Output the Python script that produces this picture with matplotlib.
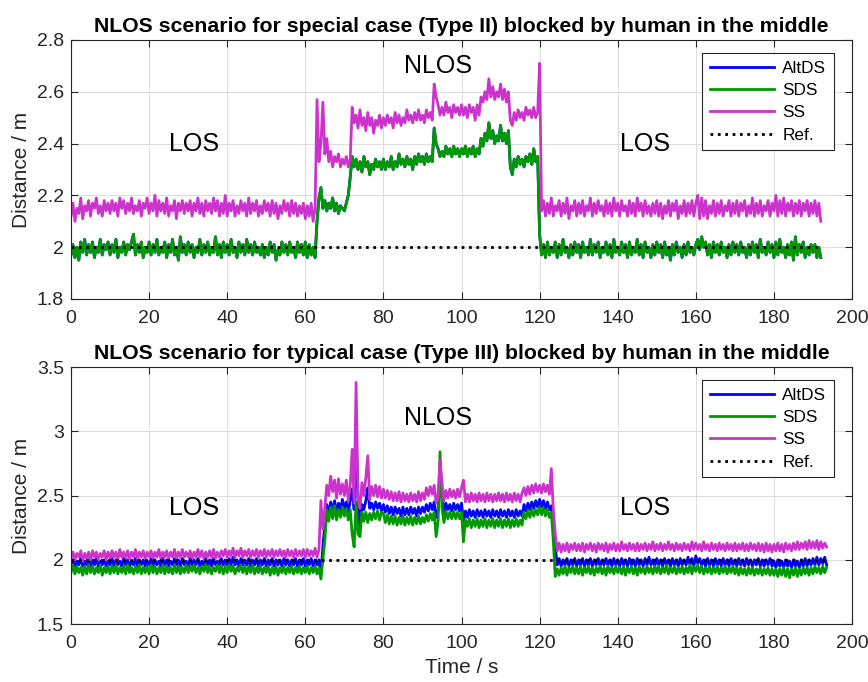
import matplotlib
matplotlib.use('Agg')
import matplotlib.pyplot as plt
import numpy as np

plt.rcParams['font.family'] = ['Liberation Sans', 'DejaVu Sans']

# sampling step of the series (s)
dt = 0.5

# ---- upper panel: special case (Type II), one row = 10 s ----
sds_top = [
    1.97, 2.01, 1.96, 2.00, 1.95, 2.02, 1.98, 2.03, 1.97, 2.01, 1.98, 2.02, 1.96, 2.00, 1.98, 2.03, 1.97, 2.01, 1.99, 2.02,
    1.97, 2.01, 1.98, 2.03, 1.96, 2.00, 1.98, 2.02, 1.97, 2.01, 1.99, 2.02, 2.05, 1.97, 2.01, 1.98, 2.02, 1.96, 2.00, 1.98,
    2.02, 1.97, 2.01, 1.98, 2.03, 1.97, 2.00, 1.98, 2.02, 1.96, 2.01, 1.98, 2.03, 1.97, 2.00, 1.95, 2.04, 1.98, 2.01, 1.97,
    2.02, 1.98, 2.01, 1.96, 2.00, 1.98, 2.03, 1.97, 2.01, 1.98, 2.02, 1.97, 2.00, 1.98, 2.04, 1.97, 2.01, 1.96, 2.02, 1.98,
    2.01, 1.97, 2.03, 1.98, 2.00, 1.96, 2.02, 1.98, 2.01, 1.97, 2.03, 1.98, 2.01, 1.97, 2.02, 1.98, 2.00, 1.97, 2.01, 1.96,
    2.00, 1.97, 2.02, 1.98, 2.01, 1.95, 1.99, 1.97, 2.02, 1.98, 2.01, 1.97, 2.02, 1.98, 2.00, 1.96, 2.02, 1.98, 2.01, 1.97,
    2.02, 1.96, 2.01, 1.97, 2.00, 1.96, 2.10, 2.19, 2.23, 2.15, 2.18, 2.14, 2.17, 2.15, 2.19, 2.14, 2.17, 2.13, 2.16, 2.15,
    2.14, 2.17, 2.20, 2.27, 2.35, 2.31, 2.34, 2.30, 2.33, 2.29, 2.35, 2.31, 2.33, 2.28, 2.32, 2.30, 2.34, 2.31, 2.33, 2.30,
    2.34, 2.30, 2.33, 2.31, 2.35, 2.30, 2.33, 2.31, 2.36, 2.32, 2.34, 2.31, 2.35, 2.32, 2.34, 2.30, 2.35, 2.32, 2.36, 2.33,
    2.35, 2.32, 2.36, 2.33, 2.35, 2.33, 2.46, 2.40, 2.38, 2.35, 2.37, 2.35, 2.39, 2.36, 2.38, 2.35, 2.39, 2.36, 2.38, 2.35,
    2.38, 2.36, 2.39, 2.35, 2.38, 2.36, 2.39, 2.35, 2.38, 2.36, 2.42, 2.39, 2.44, 2.41, 2.48, 2.42, 2.45, 2.40, 2.43, 2.41,
    2.47, 2.41, 2.44, 2.40, 2.45, 2.31, 2.28, 2.34, 2.31, 2.35, 2.32, 2.34, 2.31, 2.35, 2.33, 2.36, 2.32, 2.38, 2.33, 2.35,
    2.05, 1.97, 2.01, 1.96, 2.02, 1.97, 2.00, 1.98, 2.02, 1.96, 2.01, 1.97, 2.03, 1.98, 2.00, 1.96, 2.01, 1.97, 2.02, 1.98,
    2.01, 1.96, 2.02, 1.98, 2.00, 1.97, 2.03, 1.97, 2.01, 1.98, 2.02, 1.96, 2.00, 1.98, 2.02, 1.97, 2.01, 1.96, 2.03, 1.98,
    2.00, 1.97, 2.02, 1.98, 2.01, 1.96, 2.02, 1.97, 2.00, 1.98, 2.03, 1.97, 2.01, 1.96, 2.02, 1.98, 2.00, 1.96, 2.01, 1.97,
    2.02, 1.98, 2.01, 1.96, 2.02, 1.97, 2.00, 1.95, 2.01, 1.97, 2.02, 1.98, 2.00, 1.96, 2.01, 1.97, 2.02, 1.98, 2.00, 1.97,
    2.01, 2.03, 1.99, 2.04, 2.00, 2.02, 1.97, 2.01, 1.96, 2.02, 1.98, 2.01, 1.97, 2.02, 1.98, 2.00, 1.96, 2.01, 1.97, 2.02,
    1.98, 2.01, 1.97, 2.02, 1.98, 2.00, 1.96, 2.01, 1.97, 2.02, 1.98, 2.01, 1.96, 2.03, 1.98, 2.00, 1.97, 2.02, 1.98, 2.01,
    1.96, 2.02, 1.97, 2.03, 1.98, 2.00, 1.96, 2.01, 1.97, 2.02, 1.95, 2.04, 1.97, 2.01, 1.98, 2.02, 1.96, 2.00, 1.97, 2.01,
    1.98, 2.01, 1.96, 2.00, 1.96,
]
# AltDS coincides with SDS in this case (hidden under the green line)
altds_top = sds_top
ss_top = [
    2.12, 2.17, 2.10, 2.15, 2.13, 2.19, 2.11, 2.16, 2.14, 2.18, 2.12, 2.17, 2.15, 2.19, 2.13, 2.16, 2.12, 2.18, 2.14, 2.17,
    2.13, 2.18, 2.14, 2.17, 2.12, 2.19, 2.15, 2.18, 2.13, 2.17, 2.14, 2.19, 2.13, 2.16, 2.14, 2.18, 2.12, 2.17, 2.15, 2.19,
    2.13, 2.17, 2.14, 2.20, 2.12, 2.18, 2.14, 2.17, 2.13, 2.19, 2.12, 2.16, 2.14, 2.18, 2.11, 2.17, 2.14, 2.18, 2.13, 2.17,
    2.14, 2.18, 2.12, 2.17, 2.14, 2.19, 2.13, 2.17, 2.12, 2.18, 2.14, 2.17, 2.13, 2.19, 2.14, 2.18, 2.12, 2.17, 2.13, 2.20,
    2.12, 2.17, 2.14, 2.18, 2.12, 2.16, 2.13, 2.18, 2.14, 2.17, 2.12, 2.19, 2.13, 2.17, 2.14, 2.18, 2.12, 2.16, 2.13, 2.18,
    2.14, 2.17, 2.12, 2.18, 2.13, 2.17, 2.11, 2.16, 2.13, 2.18, 2.14, 2.17, 2.12, 2.18, 2.13, 2.17, 2.12, 2.16, 2.13, 2.17,
    2.11, 2.16, 2.12, 2.17, 2.10, 2.15, 2.57, 2.33, 2.40, 2.56, 2.36, 2.42, 2.33, 2.37, 2.31, 2.35, 2.33, 2.36, 2.31, 2.34,
    2.32, 2.35, 2.31, 2.34, 2.54, 2.48, 2.51, 2.46, 2.53, 2.47, 2.50, 2.45, 2.52, 2.47, 2.50, 2.44, 2.49, 2.47, 2.51, 2.46,
    2.50, 2.47, 2.51, 2.48, 2.50, 2.46, 2.52, 2.48, 2.51, 2.47, 2.50, 2.48, 2.53, 2.49, 2.51, 2.48, 2.52, 2.49, 2.53, 2.49,
    2.51, 2.48, 2.53, 2.50, 2.52, 2.49, 2.63, 2.58, 2.55, 2.51, 2.54, 2.51, 2.56, 2.52, 2.54, 2.50, 2.55, 2.52, 2.54, 2.51,
    2.55, 2.51, 2.54, 2.50, 2.55, 2.52, 2.54, 2.49, 2.55, 2.51, 2.58, 2.56, 2.60, 2.57, 2.65, 2.58, 2.62, 2.57, 2.60, 2.58,
    2.63, 2.57, 2.61, 2.56, 2.60, 2.49, 2.47, 2.52, 2.49, 2.53, 2.50, 2.52, 2.49, 2.54, 2.51, 2.53, 2.50, 2.54, 2.50, 2.52,
    2.71, 2.14, 2.18, 2.12, 2.17, 2.13, 2.19, 2.12, 2.16, 2.14, 2.18, 2.12, 2.17, 2.13, 2.19, 2.11, 2.16, 2.14, 2.18, 2.12,
    2.17, 2.13, 2.18, 2.12, 2.16, 2.14, 2.19, 2.12, 2.17, 2.13, 2.18, 2.14, 2.16, 2.12, 2.18, 2.13, 2.17, 2.12, 2.19, 2.14,
    2.17, 2.12, 2.18, 2.14, 2.16, 2.12, 2.18, 2.13, 2.17, 2.12, 2.19, 2.14, 2.17, 2.12, 2.18, 2.13, 2.16, 2.12, 2.17, 2.13,
    2.18, 2.12, 2.17, 2.11, 2.16, 2.13, 2.18, 2.12, 2.17, 2.14, 2.18, 2.11, 2.16, 2.13, 2.18, 2.12, 2.17, 2.13, 2.18, 2.12,
    2.17, 2.20, 2.11, 2.19, 2.12, 2.18, 2.11, 2.16, 2.13, 2.18, 2.12, 2.17, 2.13, 2.18, 2.12, 2.16, 2.14, 2.18, 2.12, 2.17,
    2.13, 2.18, 2.12, 2.17, 2.14, 2.18, 2.12, 2.16, 2.13, 2.19, 2.12, 2.17, 2.13, 2.18, 2.12, 2.16, 2.14, 2.18, 2.12, 2.17,
    2.14, 2.20, 2.12, 2.18, 2.13, 2.19, 2.12, 2.17, 2.14, 2.18, 2.12, 2.17, 2.13, 2.18, 2.12, 2.17, 2.14, 2.18, 2.12, 2.17,
    2.13, 2.18, 2.12, 2.17, 2.10,
]

# ---- lower panel: typical case (Type III), one row = 10 s ----
altds_bot = [
    1.96, 2.00, 1.95, 1.99, 1.96, 2.01, 1.95, 1.99, 1.96, 2.00, 1.95, 2.00, 1.96, 2.01, 1.95, 1.99, 1.96, 2.00, 1.95, 1.99,
    1.96, 2.01, 1.95, 2.00, 1.96, 1.99, 1.95, 2.01, 1.96, 2.00, 1.95, 1.99, 1.96, 2.01, 1.95, 2.00, 1.96, 2.00, 1.95, 1.99,
    1.96, 2.01, 1.95, 2.00, 1.96, 1.99, 1.95, 2.01, 1.96, 2.00, 1.95, 1.99, 1.96, 2.01, 1.96, 2.00, 1.95, 2.01, 1.96, 1.99,
    1.95, 2.01, 1.96, 2.00, 1.96, 2.01, 1.95, 1.99, 1.96, 2.01, 1.96, 2.00, 1.95, 2.01, 1.96, 1.99, 1.96, 2.01, 1.96, 2.00,
    1.96, 2.01, 1.96, 2.02, 1.96, 2.00, 1.95, 2.01, 1.96, 2.00, 1.96, 2.01, 1.95, 2.00, 1.96, 2.01, 1.95, 2.00, 1.96, 2.01,
    1.95, 2.00, 1.96, 2.01, 1.95, 2.00, 1.96, 2.00, 1.95, 2.01, 1.96, 2.00, 1.95, 2.00, 1.96, 2.01, 1.95, 2.00, 1.96, 2.01,
    1.95, 2.00, 1.96, 2.01, 1.95, 2.00, 1.96, 2.00, 1.90, 2.10, 2.28, 2.43, 2.36, 2.45, 2.38, 2.46, 2.37, 2.44, 2.39, 2.47,
    2.40, 2.45, 2.37, 2.46, 2.55, 2.39, 2.95, 2.45, 2.25, 2.43, 2.39, 2.46, 2.56, 2.40, 2.44, 2.39, 2.45, 2.40, 2.44, 2.38,
    2.43, 2.37, 2.42, 2.36, 2.41, 2.35, 2.41, 2.36, 2.40, 2.34, 2.41, 2.35, 2.40, 2.35, 2.41, 2.36, 2.40, 2.34, 2.41, 2.36,
    2.41, 2.37, 2.43, 2.38, 2.44, 2.39, 2.45, 2.33, 2.38, 2.70, 2.50, 2.37, 2.44, 2.39, 2.43, 2.38, 2.44, 2.39, 2.43, 2.38,
    2.44, 2.30, 2.38, 2.33, 2.39, 2.34, 2.38, 2.33, 2.39, 2.34, 2.38, 2.33, 2.39, 2.34, 2.38, 2.33, 2.39, 2.34, 2.38, 2.33,
    2.39, 2.34, 2.38, 2.33, 2.39, 2.34, 2.38, 2.33, 2.39, 2.34, 2.38, 2.34, 2.43, 2.38, 2.44, 2.39, 2.45, 2.40, 2.46, 2.41,
    2.47, 2.41, 2.46, 2.40, 2.45, 2.39, 2.42, 2.25, 2.10, 1.96, 2.01, 1.95, 2.00, 1.96, 2.01, 1.95, 2.00, 1.96, 2.01, 1.95,
    2.00, 1.96, 2.01, 1.95, 2.00, 1.96, 2.01, 1.95, 2.00, 1.96, 2.01, 1.95, 2.00, 1.96, 2.01, 1.96, 2.00, 1.95, 2.01, 1.96,
    2.00, 1.95, 2.01, 1.96, 2.00, 1.95, 2.01, 1.96, 2.00, 1.95, 2.01, 1.96, 2.00, 1.95, 2.01, 1.96, 2.02, 1.96, 2.00, 1.95,
    2.01, 1.96, 2.00, 1.95, 2.01, 1.96, 2.00, 1.95, 2.01, 1.96, 2.00, 1.95, 2.01, 1.96, 2.00, 1.96, 2.02, 1.96, 2.01, 1.95,
    2.03, 1.97, 2.01, 1.96, 2.00, 1.95, 2.01, 1.96, 2.00, 1.95, 2.01, 1.96, 2.00, 1.95, 2.01, 1.96, 2.00, 1.95, 2.01, 1.96,
    2.00, 1.95, 2.01, 1.96, 2.00, 1.95, 2.01, 1.96, 2.00, 1.95, 2.00, 1.96, 2.01, 1.95, 2.00, 1.95, 2.00, 1.96, 2.01, 1.95,
    1.99, 1.94, 2.00, 1.95, 1.99, 1.94, 2.00, 1.95, 1.99, 1.94, 2.00, 1.95, 1.99, 1.94, 2.00, 1.95, 2.01, 1.95, 2.00, 1.96,
    2.01, 1.96, 2.02, 1.96, 2.01, 1.97, 2.02, 1.96,
]
sds_bot = [
    1.90, 1.96, 1.89, 1.95, 1.90, 1.94, 1.88, 1.95, 1.89, 1.96, 1.90, 1.95, 1.89, 1.94, 1.90, 1.96, 1.88, 1.94, 1.90, 1.95,
    1.89, 1.95, 1.90, 1.96, 1.89, 1.94, 1.90, 1.95, 1.89, 1.96, 1.90, 1.94, 1.89, 1.95, 1.90, 1.96, 1.89, 1.94, 1.90, 1.95,
    1.89, 1.96, 1.90, 1.95, 1.89, 1.94, 1.90, 1.96, 1.89, 1.95, 1.90, 1.94, 1.89, 1.96, 1.90, 1.95, 1.89, 1.94, 1.90, 1.96,
    1.90, 1.95, 1.91, 1.96, 1.90, 1.94, 1.89, 1.95, 1.91, 1.96, 1.90, 1.95, 1.89, 1.94, 1.91, 1.96, 1.90, 1.95, 1.89, 1.95,
    1.90, 1.96, 1.91, 1.95, 1.89, 1.94, 1.91, 1.96, 1.90, 1.95, 1.89, 1.95, 1.90, 1.96, 1.89, 1.94, 1.90, 1.95, 1.89, 1.94,
    1.90, 1.95, 1.88, 1.94, 1.89, 1.95, 1.88, 1.94, 1.90, 1.95, 1.89, 1.94, 1.90, 1.95, 1.89, 1.94, 1.90, 1.95, 1.89, 1.94,
    1.90, 1.95, 1.89, 1.94, 1.90, 1.95, 1.89, 1.94, 1.85, 2.00, 2.15, 2.39, 2.30, 2.41, 2.32, 2.42, 2.31, 2.39, 2.33, 2.41,
    2.34, 2.40, 2.31, 2.39, 2.20, 2.10, 2.45, 2.20, 2.18, 2.37, 2.30, 2.37, 2.29, 2.36, 2.31, 2.37, 2.32, 2.38, 2.31, 2.37,
    2.36, 2.29, 2.35, 2.28, 2.34, 2.28, 2.34, 2.27, 2.33, 2.28, 2.34, 2.27, 2.33, 2.28, 2.34, 2.27, 2.33, 2.28, 2.34, 2.28,
    2.33, 2.29, 2.35, 2.30, 2.36, 2.31, 2.37, 2.18, 2.30, 2.84, 2.40, 2.29, 2.38, 2.32, 2.37, 2.32, 2.38, 2.32, 2.37, 2.32,
    2.37, 2.14, 2.31, 2.26, 2.32, 2.25, 2.31, 2.26, 2.32, 2.25, 2.31, 2.26, 2.32, 2.25, 2.31, 2.26, 2.32, 2.25, 2.31, 2.26,
    2.32, 2.25, 2.31, 2.26, 2.32, 2.25, 2.31, 2.26, 2.32, 2.26, 2.31, 2.27, 2.37, 2.32, 2.38, 2.33, 2.39, 2.34, 2.39, 2.35,
    2.41, 2.35, 2.40, 2.34, 2.39, 2.33, 2.37, 2.15, 1.87, 1.93, 1.88, 1.94, 1.89, 1.95, 1.88, 1.94, 1.90, 1.95, 1.89, 1.94,
    1.89, 1.95, 1.88, 1.94, 1.90, 1.95, 1.89, 1.94, 1.88, 1.94, 1.90, 1.95, 1.89, 1.94, 1.88, 1.95, 1.90, 1.94, 1.89, 1.95,
    1.90, 1.94, 1.89, 1.95, 1.88, 1.94, 1.90, 1.95, 1.89, 1.94, 1.88, 1.95, 1.90, 1.94, 1.89, 1.95, 1.90, 1.94, 1.89, 1.95,
    1.90, 1.95, 1.89, 1.94, 1.90, 1.96, 1.89, 1.94, 1.90, 1.95, 1.89, 1.94, 1.90, 1.95, 1.89, 1.94, 1.90, 1.96, 1.89, 1.95,
    1.91, 1.96, 1.90, 1.95, 1.89, 1.94, 1.90, 1.95, 1.89, 1.94, 1.90, 1.95, 1.89, 1.94, 1.90, 1.95, 1.89, 1.94, 1.90, 1.95,
    1.89, 1.94, 1.88, 1.94, 1.89, 1.93, 1.88, 1.94, 1.89, 1.94, 1.88, 1.93, 1.89, 1.94, 1.88, 1.93, 1.89, 1.94, 1.88, 1.93,
    1.88, 1.93, 1.87, 1.93, 1.88, 1.94, 1.87, 1.93, 1.86, 1.93, 1.88, 1.94, 1.87, 1.93, 1.88, 1.94, 1.89, 1.94, 1.88, 1.94,
    1.89, 1.95, 1.90, 1.94, 1.89, 1.95, 1.90, 1.94,
]
ss_bot = [
    2.01, 2.06, 2.00, 2.05, 2.02, 2.07, 1.99, 2.05, 2.01, 2.06, 2.00, 2.07, 2.02, 2.06, 2.00, 2.05, 2.02, 2.07, 2.00, 2.06,
    2.01, 2.07, 2.02, 2.06, 2.00, 2.08, 2.02, 2.06, 2.01, 2.07, 2.01, 2.06, 2.02, 2.08, 2.01, 2.06, 2.02, 2.07, 2.01, 2.06,
    2.02, 2.07, 2.01, 2.06, 2.02, 2.08, 2.01, 2.06, 2.02, 2.07, 2.01, 2.06, 2.02, 2.08, 2.01, 2.06, 2.02, 2.08, 2.02, 2.06,
    2.02, 2.07, 2.01, 2.06, 2.02, 2.08, 2.02, 2.07, 2.01, 2.06, 2.02, 2.07, 2.02, 2.08, 2.01, 2.06, 2.02, 2.07, 2.03, 2.08,
    2.02, 2.07, 2.03, 2.09, 2.02, 2.07, 2.03, 2.09, 2.02, 2.07, 2.03, 2.08, 2.02, 2.07, 2.03, 2.08, 2.02, 2.07, 2.03, 2.08,
    2.02, 2.07, 2.03, 2.08, 2.02, 2.07, 2.03, 2.08, 2.03, 2.07, 2.02, 2.08, 2.03, 2.07, 2.02, 2.08, 2.03, 2.07, 2.03, 2.08,
    2.02, 2.08, 2.03, 2.07, 2.03, 2.09, 2.02, 2.08, 2.46, 2.24, 2.40, 2.58, 2.50, 2.65, 2.53, 2.62, 2.48, 2.63, 2.51, 2.59,
    2.50, 2.62, 2.46, 2.58, 2.86, 2.44, 3.38, 2.48, 2.40, 2.60, 2.50, 2.64, 2.81, 2.47, 2.57, 2.50, 2.58, 2.49, 2.57, 2.48,
    2.55, 2.48, 2.54, 2.47, 2.53, 2.46, 2.52, 2.46, 2.53, 2.45, 2.52, 2.46, 2.51, 2.45, 2.52, 2.46, 2.51, 2.45, 2.53, 2.46,
    2.52, 2.47, 2.56, 2.50, 2.57, 2.51, 2.58, 2.44, 2.50, 2.78, 2.60, 2.46, 2.54, 2.48, 2.55, 2.49, 2.54, 2.48, 2.55, 2.49,
    2.56, 2.62, 2.45, 2.51, 2.45, 2.52, 2.46, 2.51, 2.45, 2.52, 2.46, 2.51, 2.45, 2.52, 2.46, 2.51, 2.45, 2.51, 2.46, 2.52,
    2.46, 2.51, 2.45, 2.52, 2.46, 2.51, 2.45, 2.52, 2.46, 2.51, 2.45, 2.52, 2.56, 2.50, 2.57, 2.51, 2.58, 2.52, 2.59, 2.53,
    2.58, 2.52, 2.59, 2.53, 2.58, 2.51, 2.71, 2.40, 2.20, 2.07, 2.13, 2.06, 2.12, 2.07, 2.13, 2.06, 2.12, 2.08, 2.13, 2.07,
    2.12, 2.07, 2.13, 2.06, 2.12, 2.08, 2.13, 2.07, 2.12, 2.06, 2.13, 2.08, 2.12, 2.07, 2.13, 2.06, 2.12, 2.08, 2.13, 2.07,
    2.12, 2.07, 2.14, 2.08, 2.12, 2.07, 2.13, 2.08, 2.12, 2.07, 2.13, 2.07, 2.12, 2.08, 2.13, 2.07, 2.12, 2.08, 2.14, 2.07,
    2.12, 2.08, 2.13, 2.07, 2.12, 2.08, 2.14, 2.08, 2.12, 2.07, 2.13, 2.08, 2.12, 2.07, 2.13, 2.08, 2.12, 2.07, 2.14, 2.08,
    2.13, 2.08, 2.12, 2.07, 2.14, 2.08, 2.12, 2.07, 2.13, 2.08, 2.12, 2.07, 2.13, 2.08, 2.12, 2.07, 2.13, 2.08, 2.12, 2.07,
    2.13, 2.07, 2.12, 2.08, 2.13, 2.07, 2.12, 2.07, 2.13, 2.08, 2.12, 2.07, 2.13, 2.07, 2.12, 2.06, 2.13, 2.07, 2.12, 2.06,
    2.12, 2.07, 2.13, 2.07, 2.12, 2.06, 2.13, 2.08, 2.12, 2.07, 2.13, 2.08, 2.14, 2.08, 2.13, 2.09, 2.14, 2.08, 2.15, 2.09,
    2.14, 2.09, 2.15, 2.08, 2.14, 2.09, 2.13, 2.10,
]

ref_dist = 2.0
names = ['AltDS', 'SDS', 'SS', 'Ref.']
colors = ['#0000ff', '#009900', '#cc33cc']

titles = ['NLOS scenario for special case (Type II) blocked by human in the middle',
          'NLOS scenario for typical case (Type III) blocked by human in the middle']
ylims = [(1.8, 2.8), (1.5, 3.5)]
yticks = [[1.8, 2.0, 2.2, 2.4, 2.6, 2.8], [1.5, 2.0, 2.5, 3.0, 3.5]]
ytick_labels = [['1.8', '2', '2.2', '2.4', '2.6', '2.8'], ['1.5', '2', '2.5', '3', '3.5']]
xticks = [0, 20, 40, 60, 80, 100, 120, 140, 160, 180, 200]
# region labels: (text, x, y)
regions = [[('LOS', 31.5, 2.4), ('NLOS', 94, 2.7), ('LOS', 147, 2.4)],
           [('LOS', 31.5, 2.4), ('NLOS', 94, 3.1), ('LOS', 147, 2.4)]]

panels = [(altds_top, sds_top, ss_top), (altds_bot, sds_bot, ss_bot)]

fig = plt.figure(figsize=(8.68, 6.82), dpi=100)
ax_top = fig.add_axes([0.0818, 0.5616, 0.8998, 0.3798])
ax_bot = fig.add_axes([0.0818, 0.0850, 0.8998, 0.3768])
axes = [ax_top, ax_bot]

dark = '#262626'
for i, ax in enumerate(axes):
    alt, sds, ss = panels[i]
    t = np.arange(len(sds)) * dt
    ax.plot(np.arange(len(alt)) * dt, alt, color=colors[0], lw=2, label=names[0])
    ax.plot(t, sds, color=colors[1], lw=2, label=names[1])
    ax.plot(np.arange(len(ss)) * dt, ss, color=colors[2], lw=2, label=names[2])
    ax.plot(t, np.full(len(t), ref_dist), color='black', lw=2, ls=':', label=names[3])

    ax.set_xlim(0, 200)
    ax.set_ylim(*ylims[i])
    ax.set_xticks(xticks)
    ax.set_yticks(yticks[i])
    ax.set_yticklabels(ytick_labels[i])
    ax.grid(True, color='#dedede', lw=0.8)
    ax.set_axisbelow(True)
    ax.tick_params(direction='in', top=True, right=True, length=5, width=0.8,
                   colors=dark, labelsize=14)
    ax.tick_params(axis='x', pad=8)
    ax.tick_params(axis='y', pad=5)
    for s in ax.spines.values():
        s.set_color(dark)
        s.set_linewidth(0.8)
    ax.set_title(titles[i], fontsize=15.3, fontweight='bold', pad=6)
    ax.set_ylabel('Distance / m', fontsize=15, color=dark, labelpad=4)
    for txt, x, y in regions[i]:
        ax.text(x, y, txt, fontsize=18, ha='center', va='center', color='black')
    leg = ax.legend(loc='upper right', bbox_to_anchor=(0.977, 0.95), borderaxespad=0,
                    fontsize=12.4, handlelength=3.7, labelspacing=0.42,
                    fancybox=False, framealpha=1, edgecolor=dark, borderpad=0.45,
                    handletextpad=0.5)
    leg.get_frame().set_linewidth(0.8)

ax_bot.set_xlabel('Time / s', fontsize=15, color=dark, labelpad=4)

fig.savefig('out.png', dpi=100)
